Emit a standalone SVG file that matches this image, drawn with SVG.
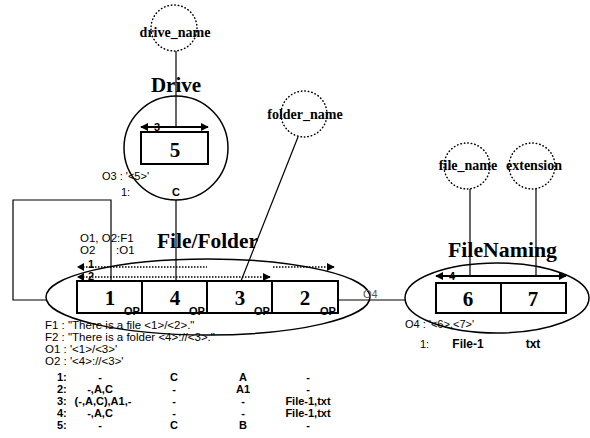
<svg xmlns="http://www.w3.org/2000/svg" width="590" height="438" viewBox="0 0 590 438">
<defs>
<marker id="ah" viewBox="0 0 10 10" refX="9" refY="5" markerWidth="8" markerHeight="8" markerUnits="userSpaceOnUse" orient="auto-start-reverse">
<path d="M0,0 L10,5 L0,10 Z" fill="#000"/>
</marker>
</defs>
<style>
.ttl{font-family:"Liberation Serif",serif;font-weight:bold;font-size:21px;fill:#000}
.num{font-family:"Liberation Serif",serif;font-weight:bold;font-size:21px;fill:#000;text-anchor:middle}
.attr{font-family:"Liberation Serif",serif;font-weight:bold;font-size:14px;fill:#000;text-anchor:middle}
.sm{font-family:"Liberation Sans",Arial,sans-serif;font-size:11px;fill:#000}
.smb{font-family:"Liberation Sans",Arial,sans-serif;font-size:11px;font-weight:bold;fill:#000}
.op{font-family:"Liberation Sans",Arial,sans-serif;font-size:11px;font-weight:bold;fill:#000}
.tx{font-family:"Liberation Sans",Arial,sans-serif;font-size:11.5px;fill:#000}
.tb{font-family:"Liberation Sans",Arial,sans-serif;font-size:11px;font-weight:bold;fill:#000;text-anchor:middle}
.tl{font-family:"Liberation Sans",Arial,sans-serif;font-size:11px;font-weight:bold;fill:#000}
.box{fill:#fff;stroke:#000;stroke-width:2}
.ell{fill:none;stroke:#000;stroke-width:1.5}
.dot{fill:none;stroke:#000;stroke-width:1.5;stroke-dasharray:0.5 3;stroke-linecap:round}
.ln{fill:none;stroke:#000;stroke-width:1.2}
.arr{fill:none;stroke:#000;stroke-width:2;marker-start:url(#ah);marker-end:url(#ah)}
.darr{fill:none;stroke:#000;stroke-width:1.5;stroke-dasharray:1.5 1.5}
</style>

<g id="drive_name">
<circle class="dot" cx="174" cy="28" r="23"/>
<text class="attr" x="175" y="37">drive_name</text>
</g>

<g id="folder_name">
<circle class="dot" cx="304" cy="114" r="23"/>
<text class="attr" x="305" y="119">folder_name</text>
</g>

<g id="file_name">
<circle class="dot" cx="467" cy="166" r="23"/>
<text class="attr" x="468" y="170">file_name</text>
</g>

<g id="extension">
<circle class="dot" cx="532" cy="166" r="23"/>
<text class="attr" x="534" y="170">extension</text>
</g>

<g id="drive">
<text class="ttl" x="176" y="92" text-anchor="middle">Drive</text>
<circle class="ell" cx="176" cy="148" r="52"/>
<rect class="box" x="141" y="132" width="67" height="32"/>
<text class="num" x="175" y="157">5</text>
<line class="arr" x1="141" y1="127" x2="208" y2="127"/>
<text class="smb" x="154" y="131">3</text>
<text class="sm" x="102" y="180">O3 : '&lt;5&gt;'</text>
<text class="sm" x="121" y="196">1:</text>
<text class="smb" x="176" y="196" text-anchor="middle">C</text>
</g>

<g id="file_folder">
<ellipse class="ell" cx="208" cy="297" rx="162" ry="38"/>
<text class="ttl" x="157" y="248" textLength="101" lengthAdjust="spacingAndGlyphs">File/Folder</text>
<text class="tx" x="80" y="242">O1, O2:F1</text>
<text class="tx" x="80" y="254">O2</text>
<text class="tx" x="116" y="254">:O1</text>
<rect class="box" x="77" y="281" width="65" height="32"/>
<rect class="box" x="142" y="281" width="65" height="32"/>
<rect class="box" x="207" y="281" width="65" height="32"/>
<rect class="box" x="272" y="281" width="66" height="32"/>
<text class="num" x="110" y="305">1</text>
<text class="num" x="175" y="305">4</text>
<text class="num" x="240" y="305">3</text>
<text class="num" x="305" y="305">2</text>
<text class="op" x="124" y="315">OP</text>
<text class="op" x="189" y="315">OP</text>
<text class="op" x="254" y="315">OP</text>
<text class="op" x="320" y="315">OP</text>
<path class="darr" d="M80,267 H207"/>
<path class="darr" d="M273,267 H334" marker-end="url(#ah)"/>
<path class="darr" d="M80,277 H270" marker-end="url(#ah)"/>
<path d="M77,267 l7,-4 v8 Z M77,277 l7,-4 v8 Z" fill="#000"/>
<text class="smb" x="88" y="268">1</text>
<text class="smb" x="88" y="280">2</text>
<text class="tx" x="45" y="329">F1  :  "There is a file &lt;1&gt;/&lt;2&gt;."</text>
<text class="tx" x="45" y="341">F2  :  "There is a folder &lt;4&gt;://&lt;3&gt;."</text>
<text class="tx" x="45" y="353">O1 : '&lt;1&gt;/&lt;3&gt;'</text>
<text class="tx" x="45" y="365">O2 : '&lt;4&gt;://&lt;3&gt;'</text>
</g>

<g id="table">
<text class="tl" x="57" y="381">1:</text>
<text class="tl" x="57" y="393">2:</text>
<text class="tl" x="57" y="405">3:</text>
<text class="tl" x="57" y="417">4:</text>
<text class="tl" x="57" y="429">5:</text>
<text class="tb" x="100" y="381">-</text>
<text class="tb" x="100" y="393">-,A,C</text>
<text class="tb" x="103" y="405">(-,A,C),A1,-</text>
<text class="tb" x="100" y="417">-,A,C</text>
<text class="tb" x="100" y="429">-</text>
<text class="tb" x="174" y="381">C</text>
<text class="tb" x="174" y="393">-</text>
<text class="tb" x="174" y="405">-</text>
<text class="tb" x="174" y="417">-</text>
<text class="tb" x="174" y="429">C</text>
<text class="tb" x="243" y="381">A</text>
<text class="tb" x="243" y="393">A1</text>
<text class="tb" x="243" y="405">-</text>
<text class="tb" x="243" y="417">-</text>
<text class="tb" x="243" y="429">B</text>
<text class="tb" x="308" y="381">-</text>
<text class="tb" x="308" y="393">-</text>
<text class="tb" x="308" y="405">File-1,txt</text>
<text class="tb" x="308" y="417">File-1,txt</text>
<text class="tb" x="308" y="429">-</text>
</g>

<g id="file_naming">
<text class="ttl" x="448" y="257" textLength="109" lengthAdjust="spacingAndGlyphs">FileNaming</text>
<ellipse class="ell" cx="497" cy="298" rx="92" ry="35"/>
<rect class="box" x="436" y="283" width="65" height="30"/>
<rect class="box" x="501" y="283" width="65" height="30"/>
<text class="num" x="468" y="306">6</text>
<text class="num" x="533" y="306">7</text>
<line class="arr" x1="436" y1="276" x2="566" y2="276"/>
<text class="smb" x="449" y="280">4</text>
<text class="sm" x="405" y="328">O4 : '&lt;6&gt;,&lt;7&gt;'</text>
<text class="sm" x="420" y="348">1:</text>
<text class="tb" x="468" y="348" style="font-size:12px">File-1</text>
<text class="tb" x="533" y="348" style="font-size:12px">txt</text>
</g>

<g id="connectors">
<line class="ln" x1="176" y1="51" x2="176" y2="127"/>
<line class="ln" x1="176" y1="200" x2="176" y2="281"/>
<path class="ln" d="M46,300 H13 V200 H111 V281"/>
<line class="ln" x1="298" y1="137" x2="241" y2="281"/>
<line class="ln" x1="338" y1="300" x2="405" y2="300"/>
<text x="363" y="298" font-family="Liberation Sans, Arial, sans-serif" font-size="11" fill="#555">O4</text>
<line class="ln" x1="470" y1="189" x2="470" y2="276"/>
<line class="ln" x1="536" y1="189" x2="536" y2="276"/>
</g>
</svg>
